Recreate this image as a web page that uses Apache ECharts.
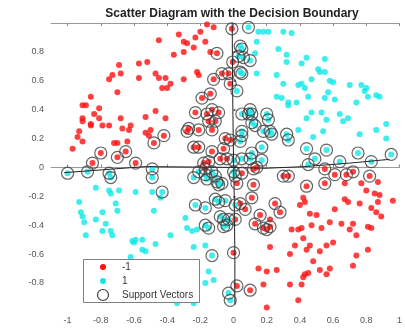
<!DOCTYPE html>
<html>
<head>
<meta charset="utf-8">
<script src="https://cdn.jsdelivr.net/npm/echarts@6/dist/echarts.min.js"></script>
<style>
  html, body { margin: 0; padding: 0; background: #ffffff; }
  #chart { width: 405px; height: 330px; }
</style>
</head>
<body>
<div id="chart"></div>
<script>
// Tick positions on both axes
const xTicks = [-1, -0.8, -0.6, -0.4, -0.2, 0, 0.2, 0.4, 0.6, 0.8, 1];
const yTicks = [-0.8, -0.6, -0.4, -0.2, 0, 0.2, 0.4, 0.6, 0.8];

// Class -1 samples that are not support vectors
const negPlain = [
  [-0.45,0.88],[-0.69,0.71],[-0.57,0.72],[-0.52,0.73],[-0.73,0.64],[-0.68,0.65],[-0.75,0.61],[-0.57,0.62],
  [-0.47,0.65],[-0.45,0.62],[-0.41,0.62],[-0.70,0.52],[-0.43,0.55],[-0.40,0.55],[-0.86,0.49],[-0.91,0.43],
  [-0.89,0.43],[-0.81,0.41],[-0.47,0.39],[-0.84,0.37],[-0.91,0.34],[-0.91,0.32],[-0.81,0.34],[-0.53,0.35],
  [-0.68,0.34],[-0.41,0.34],[-0.86,0.30],[-0.86,0.29],[-0.79,0.29],[-0.75,0.29],[-0.67,0.27],[-0.62,0.29],
  [-0.63,0.26],[-0.50,0.26],[-0.53,0.24],[-0.51,0.22],[-0.93,0.25],[-0.94,0.21],[-0.91,0.18],[-0.72,0.17],
  [-0.70,0.17],[-0.64,0.18],[-0.97,0.13],
  [-0.16,0.99],[-0.12,0.97],[-0.33,0.92],[-0.20,0.94],[-0.30,0.87],[-0.28,0.86],[-0.23,0.90],[-0.17,0.87],
  [-0.24,0.83],[-0.36,0.78],[-0.30,0.80],[-0.22,0.66],[-0.21,0.64],[-0.30,0.61],[-0.38,0.58],[-0.14,0.80],
  [0.67,-0.11],[0.77,-0.11],[0.87,-0.10],[0.80,-0.16],[0.85,-0.18],[0.88,-0.19],[0.96,-0.23],[0.67,-0.22],
  [0.69,-0.24],[0.76,-0.25],[0.87,-0.24],[0.83,-0.28],[0.86,-0.31],[0.89,-0.34],[0.42,-0.21],[0.43,-0.24],
  [0.40,-0.26],[0.61,-0.29],[0.46,-0.32],[0.50,-0.33],[0.58,-0.38],[0.65,-0.39],[0.72,-0.39],[0.47,-0.40],
  [0.53,-0.42],[0.35,-0.43],[0.39,-0.43],[0.41,-0.42],[0.70,-0.43],[0.81,-0.41],[0.83,-0.42],[0.42,-0.49],
  [0.74,-0.47],[0.60,-0.52],[0.56,-0.54],[0.46,-0.54],[0.44,-0.57],[0.37,-0.54],[0.81,-0.57],[0.52,-0.58],
  [0.34,-0.60],[0.48,-0.65],[0.74,-0.61],[0.58,-0.70],[0.52,-0.71],[0.72,-0.68],[0.45,-0.73],[0.43,-0.74],
  [0.42,-0.76],[0.56,-0.74],[0.34,-0.81],[0.41,-0.81],[0.39,-0.92],[0.22,-0.55],[0.15,-0.70],[0.20,-0.72],
  [0.26,-0.71],[0.18,-0.81],[0.20,-0.97],[0.22,-0.36]
];

// Class -1 support vectors
const negSupport = [
  [-0.01,0.96],[-0.10,0.79],[-0.005,0.73],[-0.07,0.65],[-0.03,0.65],[-0.12,0.61],[-0.02,0.58],[-0.14,0.51],
  [-0.19,0.48],[-0.23,0.38],[-0.13,0.40],[-0.09,0.38],[-0.16,0.37],[-0.15,0.32],[-0.11,0.32],[-0.27,0.27],
  [-0.28,0.25],[-0.21,0.26],[-0.13,0.26],[-0.42,0.22],[-0.48,0.17],[-0.05,0.20],[-0.02,0.19],[-0.24,0.14],
  [-0.21,0.14],[-0.13,0.11],[-0.06,0.13],[-0.08,0.06],[-0.04,0.06],[-0.18,0.03],[-0.15,0.04],[-0.17,-0.01],
  [-0.80,0.10],[-0.65,0.11],[-0.70,0.07],[-0.85,0.03],[-0.59,0.03],
  [0.05,-0.04],[0.12,-0.01],[0.14,0.00],[0.02,-0.11],[0.12,-0.12],[0.11,-0.21],[0.04,-0.25],[0.07,-0.29],
  [0.01,-0.36],[0.13,-0.39],[0.16,-0.33],[0.18,-0.42],[0.20,-0.43],[0.22,-0.41],[0.25,-0.25],[0.28,-0.31],
  [0.00,-0.59],[0.02,-0.82],[0.10,-0.85],[0.30,-0.06],[0.33,-0.06],[0.44,-0.13],[0.55,-0.01],[0.55,-0.11],
  [0.61,-0.05],[0.68,-0.05],[0.72,-0.03],[0.82,-0.06]
];

// Class 1 samples that are not support vectors
const posPlain = [
  [0.15,0.94],[0.18,0.94],[0.21,0.94],[0.30,0.94],[0.35,0.93],[0.14,0.87],[0.27,0.82],[0.13,0.79],
  [0.32,0.78],[0.32,0.73],[0.41,0.72],[0.44,0.76],[0.55,0.75],[0.51,0.68],[0.52,0.66],[0.55,0.66],
  [0.14,0.65],[0.26,0.64],[0.30,0.58],[0.39,0.57],[0.41,0.58],[0.43,0.55],[0.45,0.49],[0.47,0.61],
  [0.58,0.60],[0.60,0.59],[0.70,0.57],[0.77,0.57],[0.80,0.55],[0.79,0.53],[0.57,0.52],[0.26,0.49],
  [0.29,0.48],[0.33,0.45],[0.33,0.43],[0.38,0.45],[0.55,0.48],[0.61,0.47],[0.74,0.45],[0.81,0.49],
  [0.86,0.50],[0.88,0.49],[0.47,0.38],[0.44,0.34],[0.53,0.38],[0.56,0.33],[0.64,0.37],[0.66,0.32],
  [0.69,0.34],[0.92,0.30],[0.39,0.26],[0.54,0.25],[0.86,0.26],[0.48,0.21],[0.76,0.23],[0.92,0.20],
  [-0.83,-0.14],[-0.75,-0.16],[-0.74,-0.18],[-0.69,-0.16],[-0.59,-0.17],[-0.49,-0.17],[-0.93,-0.24],[-0.71,-0.25],
  [-0.70,-0.30],[-0.48,-0.30],[-0.92,-0.31],[-0.91,-0.34],[-0.79,-0.31],[-0.83,-0.36],[-0.90,-0.38],[-0.77,-0.39],
  [-0.79,-0.44],[-0.74,-0.44],[-0.73,-0.47],[-0.89,-0.47],[-0.61,-0.51],[-0.59,-0.50],[-0.60,-0.52],[-0.55,-0.50],
  [-0.55,-0.57],[-0.53,-0.58],[-0.47,-0.53],[-0.62,-0.62],[-0.44,-0.21],[-0.38,-0.47],[-0.29,-0.35],[-0.28,-0.42],
  [-0.25,-0.44],[-0.22,-0.43],[-0.24,-0.55],[-0.17,-0.54],[-0.15,-0.72],[-0.12,-0.78],[-0.17,-0.80],[-0.34,-0.94],
  [-0.24,-0.94]
];

// Class 1 support vectors
const posSupport = [
  [0.09,0.97],[0.04,0.84],[0.05,0.82],[0.03,0.77],[0.06,0.76],[0.10,0.74],[0.04,0.66],[0.05,0.65],
  [0.02,0.53],[0.10,0.40],[0.09,0.37],[0.11,0.37],[0.05,0.37],[0.11,0.31],[0.13,0.29],[0.20,0.37],
  [0.21,0.33],[0.18,0.25],[0.22,0.25],[0.23,0.23],[0.32,0.23],[0.33,0.19],[0.05,0.25],[0.05,0.22],
  [0.04,0.18],[0.17,0.14],[0.05,0.06],[0.10,0.06],[0.11,0.10],[0.17,0.05],[0.00,0.05],[0.44,0.13],
  [0.56,0.12],[0.75,0.10],[0.49,0.06],[0.45,0.02],[0.64,0.04],[0.83,0.04],[0.95,0.09],
  [-1.00,-0.04],[-0.88,-0.03],[-0.75,-0.04],[-0.74,-0.07],[-0.49,-0.01],[-0.49,-0.07],[-0.43,-0.17],[-0.24,-0.07],
  [-0.21,-0.03],[-0.17,-0.05],[-0.16,-0.08],[-0.13,-0.03],[-0.11,-0.06],[-0.10,-0.10],[-0.09,-0.12],[-0.07,-0.11],
  [0.00,-0.03],[0.01,-0.06],[-0.23,-0.26],[-0.17,-0.28],[-0.11,-0.22],[-0.09,-0.24],[-0.05,-0.23],[0.01,-0.26],
  [-0.08,-0.34],[-0.06,-0.36],[-0.03,-0.36],[-0.04,-0.40],[-0.17,-0.40],[-0.15,-0.42],[-0.06,-0.41],[-0.13,-0.61],
  [-0.03,-0.87],[-0.02,-0.92]
];

// Zero-level contour of the classifier: two crossing branches
const boundaryVertical = [[-0.008,1.0],[-0.006,0.6],[-0.002,0.2],[0.004,-0.2],[0.008,-0.6],[0.008,-0.95]];
const boundaryHorizontal = [[-1.02,-0.036],[-0.53,0.006],[0.0,0.0],[0.19,-0.006],[0.43,0.006],[0.70,0.03],[0.94,0.056]];

const RED = '#ff1010';
const CYAN = '#10e8e8';
const RING = '#404040';
const FONT = '"Liberation Sans", Arial, sans-serif';

const fmt = v => String(Math.round(v * 10) / 10);

const chart = echarts.init(document.getElementById('chart'), null, { renderer: 'canvas' });

chart.setOption({
  animation: false,
  backgroundColor: '#ffffff',
  title: {
    text: 'Scatter Diagram with the Decision Boundary',
    left: 232,
    top: 8,
    padding: 0,
    textAlign: 'center',
    textStyle: { fontFamily: FONT, fontSize: 12, fontWeight: 'bold', color: '#222' }
  },
  grid: { left: 51, right: 3, top: 23, bottom: 21, containLabel: false },
  xAxis: [{
    type: 'value', min: -1.1, max: 1.0, position: 'bottom',
    axisLine: { show: true, lineStyle: { color: '#999', width: 1 } },
    axisTick: { show: true, inside: true, length: 3, customValues: xTicks, lineStyle: { color: '#888' } },
    axisLabel: { customValues: xTicks, formatter: fmt, margin: 7, fontFamily: FONT, fontSize: 9, color: '#555' },
    splitLine: { show: false }
  }, {
    type: 'value', min: -1.1, max: 1.0, position: 'top',
    axisLine: { show: true, lineStyle: { color: '#999', width: 1 } },
    axisTick: { show: true, inside: true, length: 3, customValues: xTicks, lineStyle: { color: '#888' } },
    axisLabel: { show: false },
    splitLine: { show: false }
  }],
  yAxis: {
    type: 'value', min: -0.98, max: 1.0,
    axisLine: { show: false },
    axisTick: { show: true, inside: true, length: 2, customValues: yTicks, lineStyle: { color: '#333', width: 1.5 } },
    axisLabel: { customValues: yTicks, formatter: fmt, margin: 7, fontFamily: FONT, fontSize: 9, color: '#555' },
    splitLine: { show: false }
  },
  series: [{
    name: '-1', type: 'scatter', xAxisIndex: 0,
    data: negPlain.concat(negSupport),
    symbol: 'circle', symbolSize: 6,
    itemStyle: { color: RED }
  }, {
    name: '1', type: 'scatter', xAxisIndex: 0,
    data: posPlain.concat(posSupport),
    symbol: 'circle', symbolSize: 6,
    itemStyle: { color: CYAN }
  }, {
    name: 'boundary-v', type: 'line', xAxisIndex: 0,
    data: boundaryVertical, showSymbol: false, smooth: false,
    lineStyle: { color: '#222', width: 1 }, z: 3
  }, {
    name: 'boundary-h', type: 'line', xAxisIndex: 0,
    data: boundaryHorizontal, showSymbol: false, smooth: false,
    lineStyle: { color: '#222', width: 1 }, z: 3
  }, {
    name: 'Support Vectors', type: 'scatter', xAxisIndex: 0,
    data: negSupport.concat(posSupport),
    symbol: 'circle', symbolSize: 12,
    itemStyle: { color: 'rgba(0,0,0,0)', borderColor: RING, borderWidth: 1.2 },
    z: 4
  }],
  graphic: [
    { type: 'rect', z: 100, shape: { x: 83.5, y: 259.5, width: 116, height: 43 },
      style: { fill: '#ffffff', stroke: '#808080', lineWidth: 1 } },
    { type: 'circle', z: 101, shape: { cx: 103, cy: 267, r: 3 }, style: { fill: RED } },
    { type: 'text', z: 101, x: 122, y: 267,
      style: { text: '-1', font: '10px ' + FONT, fill: '#333', verticalAlign: 'middle' } },
    { type: 'circle', z: 101, shape: { cx: 103, cy: 281, r: 3 }, style: { fill: CYAN } },
    { type: 'text', z: 101, x: 122, y: 281,
      style: { text: '1', font: '10px ' + FONT, fill: '#333', verticalAlign: 'middle' } },
    { type: 'circle', z: 101, shape: { cx: 103, cy: 295, r: 5.5 },
      style: { fill: 'none', stroke: RING, lineWidth: 1.2 } },
    { type: 'text', z: 101, x: 122, y: 295,
      style: { text: 'Support Vectors', font: '10px ' + FONT, fill: '#333', verticalAlign: 'middle' } }
  ]
});
</script>
</body>
</html>
